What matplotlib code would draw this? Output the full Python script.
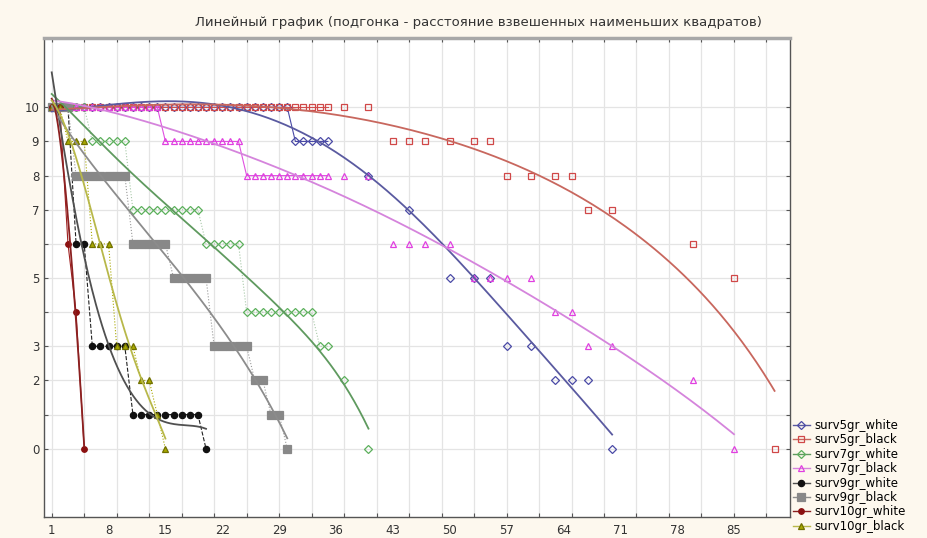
import matplotlib
matplotlib.use("Agg")
import matplotlib.pyplot as plt
from matplotlib.lines import Line2D
import numpy as np
import pandas as pd

# observation days (case numbers) and the surviving counts per group
late_days = [37, 40, 43, 45, 47, 50, 53, 55, 57, 60, 63, 65, 67, 70, 80, 85, 90]

s5w_days = list(range(1, 36)) + [40, 45, 50, 53, 55, 57, 60, 63, 65, 67, 70]
s5w_vals = [10] * 30 + [9] * 5 + [8, 7, 5, 5, 5, 3, 3, 2, 2, 2, 0]

s5b_days = list(range(1, 36)) + late_days
s5b_vals = [10] * 35 + [10, 10, 9, 9, 9, 9, 9, 9, 8, 8, 8, 8, 7, 7, 6, 5, 0]

s7w_days = list(range(1, 36)) + [37, 40]
s7w_vals = [10] * 5 + [9] * 5 + [7] * 9 + [6] * 5 + [4] * 9 + [3] * 2 + [2, 0]

s7b_days = list(range(1, 36)) + late_days[:-1]
s7b_vals = [10] * 14 + [9] * 10 + [8] * 11 + [8, 8, 6, 6, 6, 6, 5, 5, 5, 5, 4, 4, 3, 3, 2, 0]

s9w_days = list(range(1, 21))
s9w_vals = [10] * 3 + [6] * 2 + [3] * 5 + [1] * 9 + [0]

s9b_days = list(range(1, 31))
s9b_vals = [10] * 3 + [8] * 7 + [6] * 5 + [5] * 5 + [3] * 5 + [2] * 2 + [1] * 2 + [0]

s10w_days = [1, 2, 3, 4, 5]
s10w_vals = [10, 10, 6, 4, 0]

s10b_days = list(range(1, 16))
s10b_vals = [10] * 2 + [9] * 3 + [6] * 3 + [3] * 3 + [2] * 2 + [1, 0]

labels = ["surv5gr_white", "surv5gr_black", "surv7gr_white", "surv7gr_black",
          "surv9gr_white", "surv9gr_black", "surv10gr_white", "surv10gr_black"]

x_labels = ["1", "8", "15", "22", "29", "36", "43", "50", "57", "64", "71", "78", "85"]
y_labels = ["0", "", "2", "3", "", "5", "", "7", "8", "9", "10"]


def dwls(x, y, xs, frac=0.28, hadd=1.5):
    # distance weighted least squares: local quadratic fit at every xs
    x = np.asarray(x, float)
    y = np.asarray(y, float)
    h = frac * (x.max() - x.min()) + hadd
    out = []
    for x0 in xs:
        w = np.sqrt(np.exp(-((x - x0) / h) ** 2))
        A = np.vstack([np.ones_like(x), x - x0, (x - x0) ** 2]).T
        coef = np.linalg.lstsq(A * w[:, None], y * w, rcond=None)[0]
        out.append(coef[0])
    return np.array(out)


series = [
    (s5w_days, s5w_vals, dict(marker="D", mfc="none", mec="#4a4aa6", ms=4.2),
     dict(color="#4a4aa6", ls="-"), "#5a5aa0"),
    (s5b_days, s5b_vals, dict(marker="s", mfc="none", mec="#d04848", ms=5),
     dict(color="#d05050", ls="-"), "#c8675e"),
    (s7w_days, s7w_vals, dict(marker="D", mfc="none", mec="#5cb05c", ms=4.2),
     dict(color="#a8c8a8", ls=":"), "#5f9a5f"),
    (s7b_days, s7b_vals, dict(marker="^", mfc="none", mec="#e040e0", ms=5),
     dict(color="#e050e0", ls="-"), "#d584dc"),
    (s9w_days, s9w_vals, dict(marker="o", mfc="#111111", mec="#111111", ms=4.5),
     dict(color="#222222", ls="--"), "#505050"),
    (s9b_days, s9b_vals, dict(marker="s", mfc="#888888", mec="#888888", ms=5.5),
     dict(color="#999999", ls=":"), "#8c8c8c"),
    (s10w_days, s10w_vals, dict(marker="o", mfc="#8b1010", mec="#8b1010", ms=4),
     dict(color="#a02020", ls="-"), "#8b2020"),
    (s10b_days, s10b_vals, dict(marker="^", mfc="#a8a800", mec="#707000", ms=5),
     dict(color="#a8a800", ls=":"), "#b8b84a"),
]

fig = plt.figure(figsize=(9.27, 5.38), dpi=100, facecolor="#fdf8ee")
ax = fig.add_axes([44 / 927, 1 - 517 / 538, 746 / 927, 479 / 538])
ax.set_facecolor("white")

handles = []
for (days, vals, mk, raw, fitc), lab in zip(series, labels):
    s = pd.Series(vals, index=days, dtype=float).reindex(range(1, max(days) + 1))
    # raw data line (broken where the case is missing)
    ax.plot(s.index, s.values, lw=0.8, zorder=2, **raw)
    ax.plot(days, vals, ls="none", zorder=3, mew=0.9, **mk)
    # fitted curve
    xs = np.linspace(min(days), max(days), 200)
    ax.plot(xs, dwls(days, vals, xs), color=fitc, lw=1.3, zorder=4)
    handles.append(Line2D([], [], color=fitc, lw=1.0, mew=0.9, **mk))

ax.set_xlim(0.05, 91.9)
ax.set_ylim(-2.0, 12.03)

ax.xaxis.remove_overlapping_locs = False
ax.set_xticks(np.arange(1, 92, 4))
ax.set_xticklabels([])
ax.set_xticks(np.arange(1, 86, 7), minor=True)
ax.set_xticklabels(x_labels, minor=True)
ax.set_yticks(np.arange(0, 11))
ax.set_yticklabels(y_labels)
ax.tick_params(which="major", direction="in", length=3, top=True, right=True,
               labelsize=8.5, colors="#555555", labelcolor="#333333")
ax.tick_params(axis="x", which="minor", length=0, labelsize=8.5, labelcolor="#333333", pad=5)
ax.grid(True, which="major", color="#e4e4e4", lw=0.9)
ax.set_axisbelow(True)

for side in ["left", "bottom", "right"]:
    ax.spines[side].set_color("#555555")
    ax.spines[side].set_linewidth(1.0)
ax.spines["top"].set_color("#a8a8a8")
ax.spines["top"].set_linewidth(2.5)

fig.text(0.516, 0.958,
         "Линейный график (подгонка - расстояние взвешенных наименьших квадратов)",
         ha="center", va="center", fontsize=9.5, color="#333333")

fig.legend(handles, labels, loc="upper left", bbox_to_anchor=(793 / 927, 1 - 419 / 538),
           frameon=False, fontsize=8.5, handlelength=1.4, handletextpad=0.4,
           labelspacing=0.12, borderaxespad=0, borderpad=0)

fig.savefig("out.png", dpi=100, facecolor=fig.get_facecolor())
